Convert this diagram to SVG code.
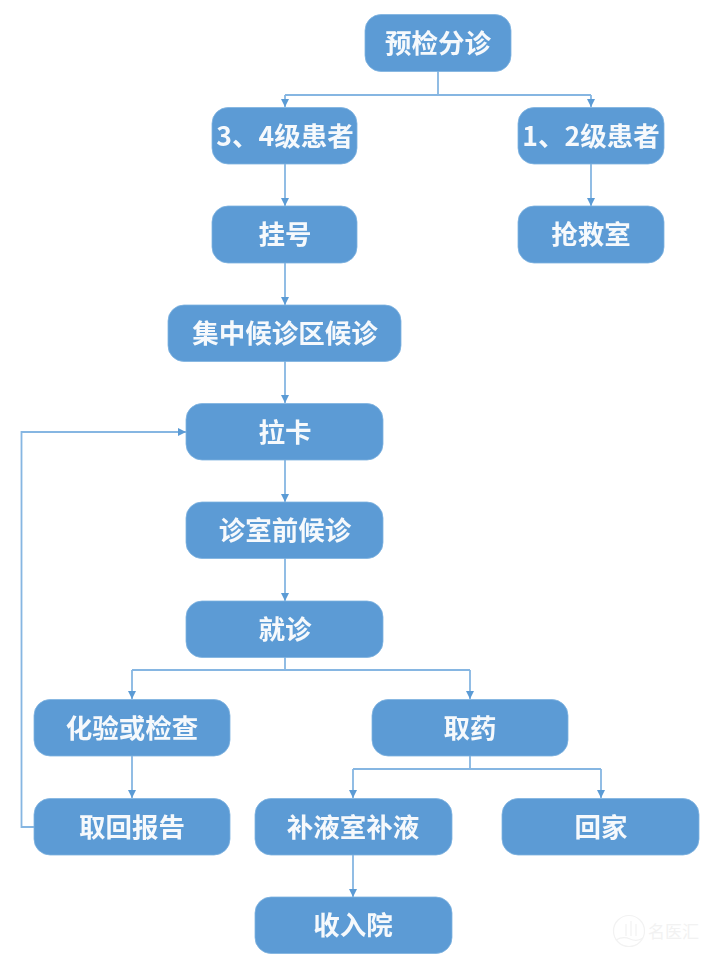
<svg xmlns="http://www.w3.org/2000/svg" width="720" height="964" viewBox="0 0 720 964">
<style>
.n rect{fill:#5b9bd5;stroke:#7fb2e0;stroke-width:0.8}
.n text{fill:#f6f9fc;font-family:"Noto Sans CJK SC","Noto Sans",sans-serif;font-size:26.500px;font-weight:700;text-anchor:middle}
#connectors path{fill:none;stroke:#86b6e2;stroke-width:1.8}
</style>
<defs>
<marker id="a" markerUnits="userSpaceOnUse" markerWidth="9" markerHeight="8" refX="8" refY="4" orient="auto"><path d="M0 0L8 4L0 8Z" fill="#5b9bd5"/></marker>
<filter id="b" x="-5%" y="-5%" width="110%" height="110%"><feGaussianBlur stdDeviation="0.6"/></filter>
</defs>
<rect width="720" height="964" fill="#fff"/>
<g id="connectors">
<path d="M438 71V95M285 95H591"/>
<path d="M285 95V107" marker-end="url(#a)"/>
<path d="M591 95V107" marker-end="url(#a)"/>
<path d="M285 164V206" marker-end="url(#a)"/>
<path d="M591 164V206" marker-end="url(#a)"/>
<path d="M285 263V305" marker-end="url(#a)"/>
<path d="M285 361V403" marker-end="url(#a)"/>
<path d="M285 460V502" marker-end="url(#a)"/>
<path d="M285 558V601" marker-end="url(#a)"/>
<path d="M285 657V670M132 670H470"/>
<path d="M132 670V699" marker-end="url(#a)"/>
<path d="M470 670V699" marker-end="url(#a)"/>
<path d="M132 756V798" marker-end="url(#a)"/>
<path d="M34 827H21.500V432H186" marker-end="url(#a)"/>
<path d="M470 756V769M353 769H601"/>
<path d="M353 769V798" marker-end="url(#a)"/>
<path d="M601 769V798" marker-end="url(#a)"/>
<path d="M353 855V897" marker-end="url(#a)"/>
</g>
<g filter="url(#b)">
<g id="n1" class="n"><rect x="365" y="14.500" width="146" height="57" rx="16"/><text x="438" y="53">预检分诊</text></g>
<g id="n2" class="n"><rect x="212" y="107.500" width="145" height="56.500" rx="16"/><text x="285" y="146">3、4级患者</text></g>
<g id="n3" class="n"><rect x="518" y="107.500" width="146" height="56.500" rx="16"/><text x="591" y="146">1、2级患者</text></g>
<g id="n4" class="n"><rect x="212" y="206" width="145" height="57" rx="16"/><text x="285" y="244">挂号</text></g>
<g id="n5" class="n"><rect x="518" y="206" width="146" height="57" rx="16"/><text x="591" y="244">抢救室</text></g>
<g id="n6" class="n"><rect x="168" y="305" width="233" height="56.500" rx="16"/><text x="285" y="343">集中候诊区候诊</text></g>
<g id="n7" class="n"><rect x="186" y="403.500" width="197" height="56.500" rx="16"/><text x="285" y="442">拉卡</text></g>
<g id="n8" class="n"><rect x="186" y="502" width="197" height="56.500" rx="16"/><text x="285" y="540">诊室前候诊</text></g>
<g id="n9" class="n"><rect x="186" y="601" width="197" height="56.500" rx="16"/><text x="285" y="639">就诊</text></g>
<g id="n10" class="n"><rect x="34" y="699.500" width="196" height="56.500" rx="16"/><text x="132" y="738">化验或检查</text></g>
<g id="n11" class="n"><rect x="372" y="699.500" width="196" height="56.500" rx="16"/><text x="470" y="738">取药</text></g>
<g id="n12" class="n"><rect x="34" y="798.500" width="196" height="56.500" rx="16"/><text x="132" y="837">取回报告</text></g>
<g id="n13" class="n"><rect x="255" y="798.500" width="197" height="56.500" rx="16"/><text x="353" y="837">补液室补液</text></g>
<g id="n14" class="n"><rect x="502" y="798.500" width="197" height="56.500" rx="16"/><text x="601" y="837">回家</text></g>
<g id="n15" class="n"><rect x="255" y="897" width="197" height="56.500" rx="16"/><text x="353" y="935">收入院</text></g>
</g>
<g id="watermark" fill="none" stroke="#f2f2f2" stroke-width="1.200">
<circle cx="629" cy="931" r="15.500"/>
<path d="M616 940Q623 936 630 939T643 938"/>
<path d="M626 924V936M631 921V936M636 924V936"/>
<text x="648" y="938" font-family="Noto Sans CJK SC,sans-serif" font-size="17" fill="#f2f2f2" stroke="none">名医汇</text>
</g>
</svg>
